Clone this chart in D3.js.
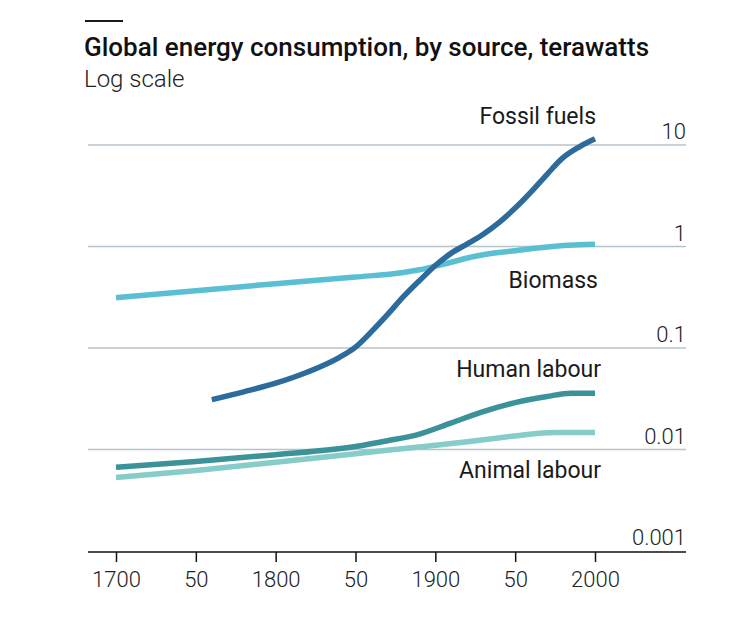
<!DOCTYPE html>
<html>
<head>
<meta charset="utf-8">
<script src="https://cdn.jsdelivr.net/npm/d3@7"></script>
<style>
  html, body { margin: 0; padding: 0; background: #fff; }
  svg text { font-family: Roboto, "Noto Sans", sans-serif; }
</style>
</head>
<body>
<svg id="chart" width="740" height="628"></svg>
<script>
// ---- Data (terawatts) ----
const fossilYears  = [1760, 1780, 1800, 1820, 1840, 1850, 1860, 1870, 1880, 1890, 1900, 1910, 1920, 1930, 1940, 1950, 1960, 1970, 1980, 1990, 2000];
const fossilValues = [0.031, 0.037, 0.045, 0.058, 0.081, 0.102, 0.145, 0.213, 0.32, 0.46, 0.65, 0.86, 1.06, 1.32, 1.73, 2.39, 3.45, 5.15, 7.5, 9.55, 11.5];

const biomassYears  = [1700, 1750, 1800, 1850, 1880, 1890, 1900, 1910, 1920, 1930, 1950, 1970, 1990, 2000];
const biomassValues = [0.313, 0.367, 0.43, 0.50, 0.555, 0.59, 0.64, 0.70, 0.77, 0.83, 0.91, 0.99, 1.04, 1.05];

const humanYears  = [1700, 1750, 1800, 1850, 1870, 1890, 1910, 1930, 1950, 1970, 1985, 2000];
const humanValues = [0.0067, 0.0076, 0.0089, 0.0107, 0.0122, 0.0142, 0.0183, 0.0236, 0.029, 0.0333, 0.0358, 0.0358];

const animalYears  = [1700, 1750, 1800, 1850, 1890, 1920, 1950, 1975, 2000];
const animalValues = [0.0053, 0.0062, 0.0075, 0.0091, 0.0106, 0.0119, 0.0136, 0.0147, 0.0147];

const seriesNames = ["Fossil fuels", "Biomass", "Human labour", "Animal labour"];
const xTickValues = [1700, 1750, 1800, 1850, 1900, 1950, 2000];
const xTickLabels = ["1700", "50", "1800", "50", "1900", "50", "2000"];
const yTickValues = [0.001, 0.01, 0.1, 1, 10];
const yTickLabels = ["0.001", "0.01", "0.1", "1", "10"];

// ---- Chart ----
const svg = d3.select("#chart");
const x = d3.scaleLinear().domain([1700, 2000]).range([116, 595]);
const y = d3.scaleLog().domain([0.001, 10]).range([551, 145]);
const gridLeft = 88, gridRight = 686;

// title block
svg.append("rect").attr("x", 85).attr("y", 20).attr("width", 38).attr("height", 2).attr("fill", "#1a1a1a");
svg.append("text").attr("x", 84).attr("y", 56)
  .attr("font-size", 26).attr("font-weight", 500).attr("fill", "#111")
  .text("Global energy consumption, by source, terawatts");
svg.append("text").attr("x", 84).attr("y", 87)
  .attr("font-size", 24).attr("font-weight", 300).attr("fill", "#222")
  .text("Log scale");

// gridlines
const grid = svg.append("g");
yTickValues.forEach((v, i) => {
  if (i > 0) {
    grid.append("line")
      .attr("x1", gridLeft).attr("x2", gridRight)
      .attr("y1", y(v)).attr("y2", y(v))
      .attr("stroke", "#b7c3cc").attr("stroke-width", 1.5);
  }
  grid.append("text")
    .attr("x", gridRight).attr("y", y(v) - 6)
    .attr("text-anchor", "end")
    .attr("font-size", 22).attr("font-weight", 300).attr("fill", "#222")
    .text(yTickLabels[i]);
});

// x axis
const xAxis = d3.axisBottom(x)
  .tickValues(xTickValues)
  .tickSize(10)
  .tickPadding(9)
  .tickFormat((d, i) => xTickLabels[i]);
const gx = svg.append("g").attr("transform", `translate(0,${y(0.001) + 1})`).call(xAxis);
gx.select(".domain").remove();
gx.selectAll(".tick line").attr("stroke", "#111").attr("stroke-width", 1.5);
gx.selectAll(".tick text").attr("font-size", 22).attr("font-weight", 300).attr("fill", "#222")
  .attr("font-family", "Roboto, 'Noto Sans', sans-serif");
svg.append("line")
  .attr("x1", gridLeft).attr("x2", gridRight)
  .attr("y1", y(0.001) + 1).attr("y2", y(0.001) + 1)
  .attr("stroke", "#111").attr("stroke-width", 1.5);

// lines
const line = d3.line().x(d => x(d[0])).y(d => y(d[1])).curve(d3.curveMonotoneX);
const series = [
  { years: animalYears, values: animalValues, color: "#86ccc8" },
  { years: humanYears, values: humanValues, color: "#3b9299" },
  { years: biomassYears, values: biomassValues, color: "#5bbfd3" },
  { years: fossilYears, values: fossilValues, color: "#2c6b9c" }
];
series.forEach(s => {
  svg.append("path")
    .datum(d3.zip(s.years, s.values))
    .attr("d", line)
    .attr("fill", "none")
    .attr("stroke", s.color)
    .attr("stroke-width", 5.5);
});

// series labels
const labelPos = [
  { name: seriesNames[0], x: 596, y: 124 },
  { name: seriesNames[1], x: 598, y: 288 },
  { name: seriesNames[2], x: 601, y: 377 },
  { name: seriesNames[3], x: 601, y: 478 }
];
labelPos.forEach(l => {
  svg.append("text").attr("x", l.x).attr("y", l.y)
    .attr("text-anchor", "end")
    .attr("font-size", 23).attr("font-weight", 400).attr("fill", "#1a1a1a")
    .text(l.name);
});
</script>
</body>
</html>
